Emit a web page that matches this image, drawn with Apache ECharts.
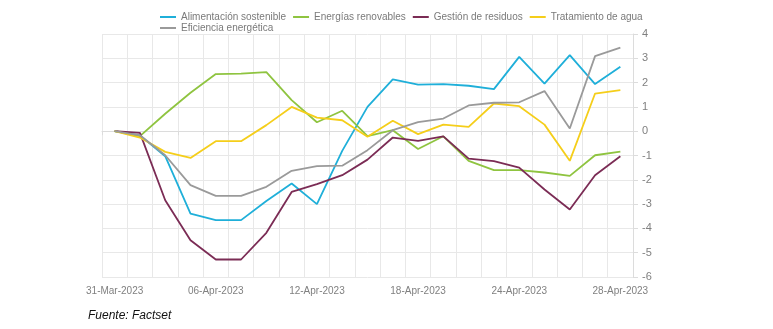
<!DOCTYPE html>
<html><head><meta charset="utf-8">
<script src="https://cdn.jsdelivr.net/npm/echarts@6/dist/echarts.min.js"></script>
<style>html,body{margin:0;padding:0;background:#fff}#c{width:773px;height:329px}</style>
</head><body><div id="c"></div>
<script>
const dates = ['31-Mar-2023','03-Apr-2023','04-Apr-2023','05-Apr-2023','06-Apr-2023','07-Apr-2023','10-Apr-2023','11-Apr-2023','12-Apr-2023','13-Apr-2023','14-Apr-2023','17-Apr-2023','18-Apr-2023','19-Apr-2023','20-Apr-2023','21-Apr-2023','24-Apr-2023','25-Apr-2023','26-Apr-2023','27-Apr-2023','28-Apr-2023'];
const alimentacion = [0,-0.17,-1.03,-3.39,-3.66,-3.66,-2.87,-2.15,-3.0,-0.81,1.0,2.13,1.92,1.94,1.87,1.73,3.06,1.96,3.13,1.94,2.65];
const energias = [0,-0.2,0.72,1.58,2.35,2.37,2.43,1.28,0.37,0.84,-0.2,0.04,-0.73,-0.21,-1.22,-1.6,-1.6,-1.7,-1.84,-0.99,-0.84];
const residuos = [0,-0.07,-2.84,-4.49,-5.28,-5.28,-4.18,-2.5,-2.18,-1.81,-1.17,-0.26,-0.4,-0.21,-1.13,-1.23,-1.5,-2.4,-3.22,-1.81,-1.03];
const agua = [0,-0.26,-0.85,-1.1,-0.41,-0.41,0.25,1.0,0.56,0.45,-0.23,0.43,-0.12,0.27,0.18,1.14,1.03,0.27,-1.22,1.55,1.69];
const eficiencia = [0,-0.17,-0.99,-2.22,-2.66,-2.66,-2.29,-1.63,-1.44,-1.42,-0.78,0.04,0.37,0.52,1.06,1.17,1.19,1.65,0.11,3.09,3.44];
const names = ['Alimentación sostenible','Energías renovables','Gestión de residuos','Tratamiento de agua','Eficiencia energética'];
const colors = ['#1FAFD9','#8FC440','#7B2C55','#F5CE1A','#9A9A9A'];
const seriesData = [alimentacion, energias, residuos, agua, eficiencia];

const chart = echarts.init(document.getElementById('c'), null, {renderer:'canvas'});
const legendText = {color:'#7a7a7a', fontSize:10, fontFamily:'Liberation Sans, Arial, sans-serif'};
chart.setOption({
  animation:false,
  color: colors,
  title: {text:'Fuente: Factset', left:83, top:305,
    textStyle:{fontSize:12, fontStyle:'italic', fontWeight:'normal', color:'#111', fontFamily:'Liberation Sans, Arial, sans-serif'}},
  legend: [
    {data: names.slice(0,4), left:160, top:12, icon:'rect', itemWidth:16, itemHeight:2, itemGap:7,
     textStyle: legendText, padding:0},
    {data: names.slice(4), left:160, top:23, icon:'rect', itemWidth:16, itemHeight:2, itemGap:7,
     textStyle: legendText, padding:0}
  ],
  grid: {left:102, right:140, top:34, bottom:52},
  xAxis: {
    type:'category', data: dates, boundaryGap:true,
    axisLine:{show:true, lineStyle:{color:'#dcdcdc'}},
    axisTick:{show:true, interval:0, length:4, lineStyle:{color:'#dcdcdc'}},
    axisLabel:{interval:3, color:'#808080', fontSize:10, margin:9, fontFamily:'Liberation Sans, Arial, sans-serif'},
    splitLine:{show:true, interval:0, lineStyle:{color:'#e8e8e8'}}
  },
  yAxis: {
    type:'value', position:'right', min:-6, max:4, interval:1,
    axisLine:{show:true, lineStyle:{color:'#dcdcdc'}},
    axisTick:{show:true, length:5, lineStyle:{color:'#dcdcdc'}},
    axisLabel:{color:'#808080', fontSize:11, margin:9, fontFamily:'Liberation Sans, Arial, sans-serif'},
    splitLine:{show:true, lineStyle:{color:'#e8e8e8'}}
  },
  series: names.map((n,i)=>({
    name:n, type:'line', data: seriesData[i], showSymbol:false, symbol:'none',
    lineStyle:{width:1.8, color:colors[i]}, itemStyle:{color:colors[i]}
  }))
});
</script>
</body></html>
